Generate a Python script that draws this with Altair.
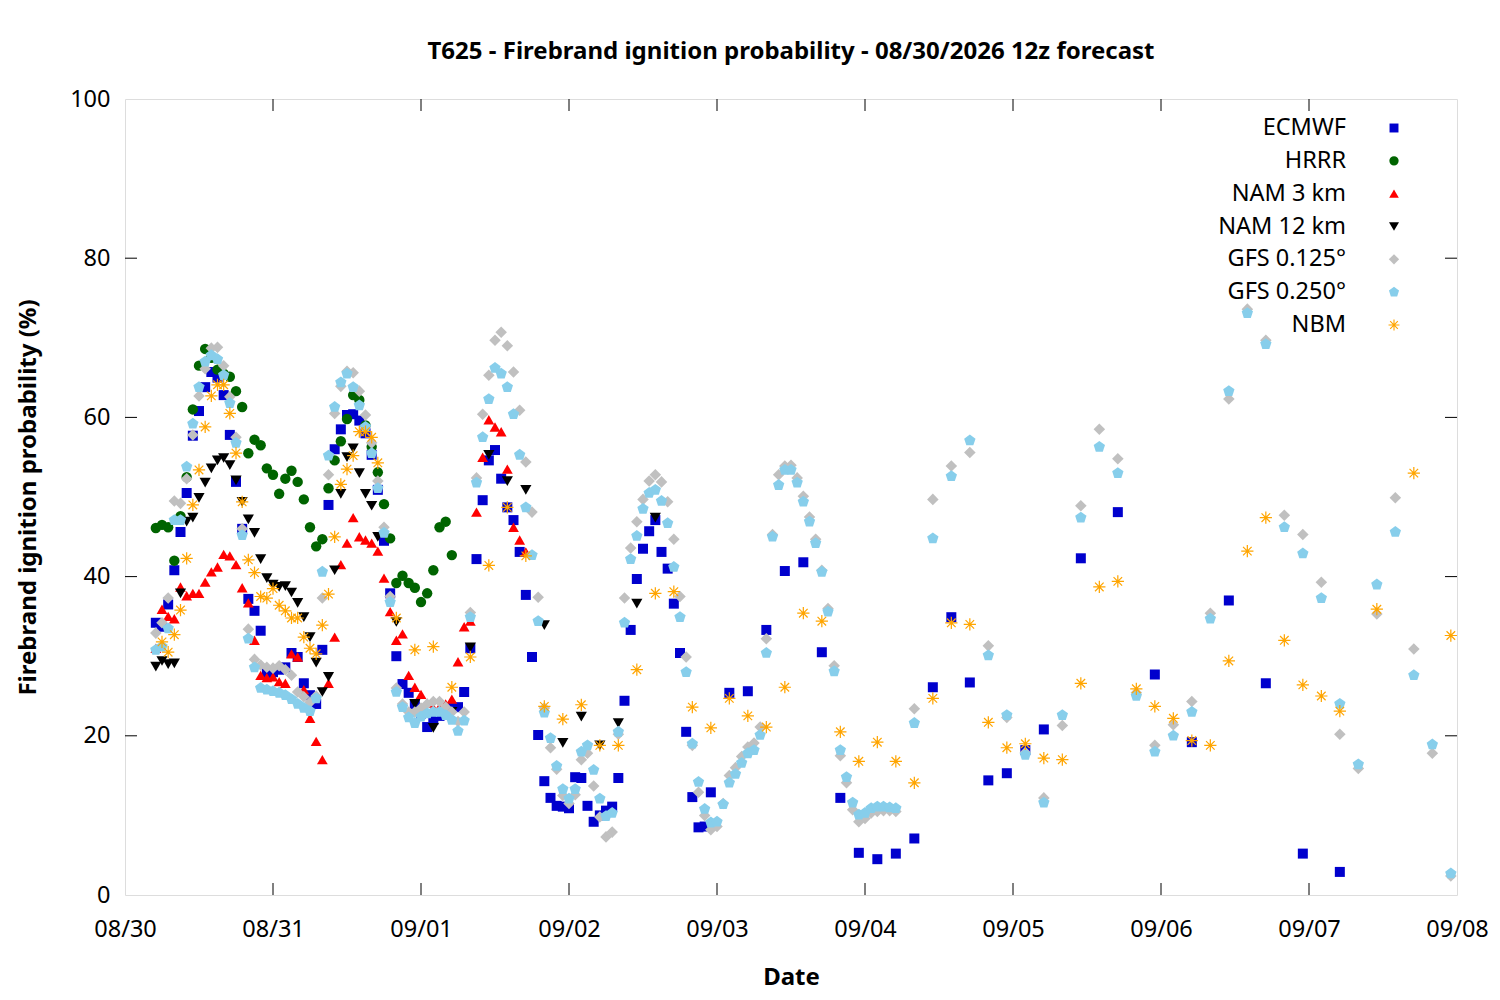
import altair as alt
import pandas as pd

BASE = pd.Timestamp("2026-08-30 00:00")

series_names = ["ECMWF", "HRRR", "NAM 3 km", "NAM 12 km", "GFS 0.125°", "GFS 0.250°", "NBM"]
series_colors = ["#0000cd", "#006400", "#ff0000", "#000000", "#c0c0c0", "#87ceeb", "#ffa500"]

PENTAGON = "M0,-1L0.951,-0.309L0.588,0.809L-0.588,0.809L-0.951,-0.309Z"
ASTERISK = ("M-1,-0.1L1,-0.1L1,0.1L-1,0.1Z"
            "M-0.1,-1L0.1,-1L0.1,1L-0.1,1Z"
            "M-0.63,-0.77L0.77,0.63L0.63,0.77L-0.77,-0.63Z"
            "M-0.77,0.63L0.63,-0.77L0.77,-0.63L-0.63,0.77Z")
series_shapes = ["square", "circle", "triangle-up", "triangle-down", "diamond", PENTAGON, ASTERISK]
point_sizes = [100, 150, 230, 230, 110, 145, 200]
legend_sizes = [80, 120, 190, 190, 95, 120, 160]

# hours after 08/30 00:00 (local time on the axis)
ecmwf_hours = list(range(5, 96)) + list(range(98, 150, 3)) + list(range(155, 198, 6))
ecmwf_vals = [
    34.2, 33.7, 36.5, 40.8, 45.6, 50.5, 57.7, 60.8, 63.8, 65.7,
    65.0, 62.8, 57.8, 51.9, 46.0, 37.2, 35.7, 33.2, 27.9, 28.0,
    28.3, 28.6, 30.4, 29.9, 26.6, 25.1, 24.0, 30.8, 49.0, 56.0,
    58.5, 60.3, 60.4, 59.6, 58.0, 55.3, 50.9, 44.5, 37.9, 30.0,
    26.5, 25.4, 24.0, 22.8, 21.1, 22.0, 22.5, 23.0, 23.5, 23.6,
    25.5, 31.0, 42.2, 49.6, 54.6, 55.9, 52.3, 48.7, 47.1, 43.1,
    37.7, 29.9, 20.1, 14.3, 12.2, 11.2, 11.1, 10.9, 14.8, 14.7,
    11.2, 9.2, 10.0, 10.6, 11.1, 14.7, 24.4, 33.3, 39.7, 43.5,
    45.7, 47.1, 43.1, 41.0, 36.6, 30.4, 20.5, 12.3, 8.5, 8.6,
    12.9,
    25.4, 25.6, 33.3, 40.7, 41.8, 30.5, 12.2, 5.3, 4.5, 5.2,
    7.1, 26.1, 34.9, 26.7, 14.4, 15.3, 18.2, 20.8,
    42.3, 48.1, 27.7, 19.2, 37.0, 26.6, 5.2, 2.9,
]

hrrr_hours = list(range(5, 54))
hrrr_vals = [
    46.1, 46.5, 46.2, 42.0, 47.6, 52.5, 61.0, 66.5, 68.6, 67.5,
    66.0, 65.5, 65.1, 63.3, 61.3, 55.5, 57.2, 56.5, 53.6, 52.8,
    50.4, 52.3, 53.3, 51.9, 49.7, 46.2, 43.8, 44.7, 51.1, 54.6,
    57.0, 59.8, 62.8, 62.2, 59.0, 56.3, 53.1, 49.1, 44.8, 39.2,
    40.1, 39.2, 38.6, 36.8, 37.9, 40.8, 46.2, 46.9, 42.7,
]

nam3_hours = list(range(5, 66))
nam3_vals = [
    31.0, 35.9, 35.0, 34.7, 38.7, 37.6, 37.9, 37.9, 39.3, 40.6,
    41.2, 42.8, 42.6, 41.5, 38.6, 36.7, 32.0, 27.6, 27.3, 27.4,
    26.8, 26.6, 30.3, 29.9, 25.8, 22.2, 19.3, 17.0, 26.6, 32.4,
    41.5, 44.2, 47.4, 45.0, 44.6, 44.2, 43.2, 39.8, 35.6, 32.0,
    32.8, 27.6, 26.1, 25.2, 24.1, 23.5, 23.6, 24.0, 24.6, 29.3,
    33.7, 34.4, 48.1, 55.0, 59.7, 58.8, 58.2, 53.5, 46.2, 44.6,
    43.1,
]

nam12_hours = list(range(5, 42)) + list(range(44, 87, 3))
nam12_vals = [
    28.7, 29.4, 29.0, 29.1, 37.9, 46.9, 47.4, 49.9, 51.8, 53.6,
    54.6, 54.9, 54.0, 52.1, 49.4, 47.2, 45.5, 42.2, 39.8, 39.0,
    38.7, 38.8, 38.0, 36.7, 34.9, 32.4, 29.2, 25.5, 27.4, 40.8,
    50.4, 55.0, 56.1, 53.0, 50.4, 48.9, 45.0,
    34.3, 24.0, 21.0, 23.0, 31.1, 55.3, 52.0, 50.9, 33.9, 19.1,
    22.4, 18.8, 21.6, 36.6, 47.4,
]

gfs_hours = list(range(5, 126)) + list(range(128, 216, 3))
gfs125_vals = [
    32.9, 34.2, 37.3, 49.5, 49.2, 52.3, 57.8, 62.7, 66.1, 68.7,
    68.8, 66.5, 62.6, 57.5, 46.0, 33.4, 29.6, 28.9, 28.6, 28.5,
    28.8, 28.3, 27.6, 25.5, 24.9, 24.2, 25.0, 37.3, 52.8, 60.5,
    63.9, 65.8, 65.6, 63.3, 60.3, 56.8, 52.0, 46.2, 37.5, 26.0,
    24.0, 23.0, 23.0, 23.5, 24.0, 24.3, 24.3, 23.6, 23.0, 21.8,
    23.0, 35.5, 52.4, 60.4, 65.3, 69.7, 70.7, 69.0, 65.7, 60.9,
    54.4, 48.1, 37.4, 23.5, 18.5, 15.8, 12.5, 11.5, 12.6, 17.0,
    17.8, 13.7, 9.8, 7.3, 7.9, 20.2, 37.3, 43.6, 46.9, 49.7,
    52.0, 52.8, 51.9, 49.4, 44.7, 37.5, 29.9, 18.8, 12.9, 10.0,
    8.2, 8.6, 11.5, 15.0, 16.0, 17.4, 18.6, 19.1, 21.1, 32.2,
    45.3, 52.8, 53.9, 54.0, 52.4, 50.1, 47.5, 44.7, 40.8, 36.0,
    28.8, 17.5, 14.1, 10.7, 9.2, 9.6, 10.3, 10.5, 10.6, 10.6,
    10.5,
    23.4, 49.7, 53.9, 55.6, 31.3, 22.3, 17.9, 12.2, 21.3, 48.9,
    58.5, 54.8, 25.4, 18.8, 21.4, 24.3, 35.4, 62.3, 73.6, 69.7,
    47.7, 45.3, 39.3, 20.2, 15.9, 35.3, 49.9, 30.9, 17.8, 2.4,
]
gfs250_vals = [
    30.8, 31.2, 33.5, 47.1, 47.1, 53.8, 59.2, 63.8, 67.0, 67.8,
    67.3, 65.3, 61.8, 56.8, 45.2, 32.2, 28.6, 26.0, 25.8, 25.6,
    25.4, 25.1, 24.6, 24.0, 23.5, 23.1, 24.7, 40.6, 55.2, 61.3,
    64.4, 65.5, 63.8, 61.5, 58.8, 55.5, 51.1, 45.5, 36.8, 25.5,
    23.6, 22.3, 21.6, 22.4, 22.8, 23.0, 23.0, 22.6, 22.0, 20.6,
    21.9, 34.9, 51.8, 57.5, 62.3, 66.2, 65.5, 63.8, 60.4, 55.3,
    48.7, 42.7, 34.4, 22.9, 19.7, 16.2, 13.3, 12.1, 13.3, 18.0,
    18.8, 15.7, 12.1, 9.9, 10.3, 20.5, 34.2, 42.2, 45.1, 48.5,
    50.5, 50.9, 49.5, 46.7, 41.2, 34.9, 28.0, 19.0, 14.2, 10.8,
    9.1, 9.2, 11.4, 14.1, 15.2, 16.6, 17.8, 18.2, 20.1, 30.4,
    45.0, 51.5, 53.4, 53.4, 51.8, 49.4, 46.9, 44.2, 40.6, 35.6,
    28.1, 18.2, 14.8, 11.6, 10.1, 10.3, 10.9, 11.1, 11.1, 11.0,
    10.9,
    21.6, 44.8, 52.6, 57.1, 30.1, 22.6, 17.6, 11.6, 22.6, 47.4,
    56.3, 53.0, 25.0, 18.0, 20.0, 23.0, 34.7, 63.3, 73.1, 69.2,
    46.2, 42.9, 37.3, 24.0, 16.4, 39.0, 45.6, 27.6, 18.9, 2.7,
]

nbm_hours = list(range(6, 42)) + list(range(44, 198, 3)) + [203, 209, 215]
nbm_vals = [
    31.8, 30.5, 32.7, 35.8, 42.3, 49.0, 53.4, 58.8, 62.7,
    64.1, 64.1, 60.5, 55.5, 49.4, 42.1, 40.5, 37.5, 37.3, 38.5,
    36.4, 35.7, 34.8, 34.8, 32.4, 31.0, 30.3, 33.9, 37.8, 45.0,
    51.6, 53.5, 55.2, 58.2, 58.2, 57.5, 54.3,
    34.8, 30.8, 31.2, 26.1, 29.9, 41.4, 48.7, 42.6, 23.7, 22.1,
    23.9, 18.8, 18.8, 28.3, 37.9, 38.1, 23.6, 21.0, 24.7, 22.5,
    21.1, 26.1, 35.4, 34.4, 20.5, 16.8, 19.2, 16.8, 14.1, 24.7,
    34.2, 34.0, 21.7, 18.5, 19.0, 17.2, 17.0, 26.6, 38.7, 39.4,
    25.9, 23.7, 22.2, 19.4, 18.8, 29.4, 43.2, 47.4, 32.0, 26.4,
    25.0, 23.1,
    35.9, 53.0, 32.6,
]

y_tick_values = [20, 40, 60, 80]
day_ticks = pd.date_range("2026-08-31", "2026-09-07", freq="D")

W, H = 1332, 796
FONT = "Noto Sans"
LABEL_SIZE = 23.5
TITLE_SIZE = 24

series_data = [
    (ecmwf_hours, ecmwf_vals), (hrrr_hours, hrrr_vals), (nam3_hours, nam3_vals),
    (nam12_hours, nam12_vals), (gfs_hours, gfs125_vals), (gfs_hours, gfs250_vals),
    (nbm_hours, nbm_vals),
]
frames = []
for k, (name, (hrs, vals)) in enumerate(zip(series_names, series_data)):
    frames.append(pd.DataFrame({
        "series": name,
        "time": BASE + pd.to_timedelta(hrs, unit="h"),
        "value": vals,
        "z": k,
    }))
df = pd.concat(frames, ignore_index=True)

color_scale = alt.Scale(domain=series_names, range=series_colors)
shape_scale = alt.Scale(domain=series_names, range=series_shapes)

x_enc = alt.X(
    "time:T",
    title="Date",
    scale=alt.Scale(domain=[alt.DateTime(year=2026, month=8, date=30),
                            alt.DateTime(year=2026, month=9, date=8)]),
    axis=alt.Axis(format="%m/%d", tickCount={"interval": "day", "step": 1},
                  ticks=False, tickSize=0, grid=False, domain=False,
                  labelFlush=False, labelOverlap=False, labelPadding=22,
                  labelFontSize=LABEL_SIZE, labelFont=FONT, labelColor="black",
                  titleFontSize=TITLE_SIZE, titleFont=FONT, titleFontWeight="bold",
                  titleColor="black", titlePadding=25),
)
y_scale = alt.Scale(domain=[0, 100], nice=False)
y_enc = alt.Y(
    "value:Q",
    title="Firebrand ignition probability (%)",
    scale=y_scale,
    axis=alt.Axis(values=[0, 20, 40, 60, 80, 100], ticks=False, tickSize=0,
                  grid=False, domain=False, labelPadding=15,
                  labelFontSize=LABEL_SIZE, labelFont=FONT, labelColor="black",
                  titleFontSize=TITLE_SIZE, titleFont=FONT, titleFontWeight="bold",
                  titleColor="black", titlePadding=29),
)

points = alt.Chart(df).mark_point(filled=True, opacity=1).encode(
    x=x_enc,
    y=y_enc,
    color=alt.Color("series:N", scale=color_scale, legend=None),
    shape=alt.Shape("series:N", scale=shape_scale, legend=None),
    size=alt.Size("series:N", scale=alt.Scale(domain=series_names, range=point_sizes), legend=None),
    order=alt.Order("z:Q"),
)

# inward ticks on all four sides, like the original
ytick_df = pd.DataFrame({"value": y_tick_values})
xtick_df = pd.DataFrame({"time": day_ticks})
y_plain = alt.Y("value:Q", scale=y_scale, axis=None)
tick_style = dict(color="black", strokeWidth=1)
yticks_left = alt.Chart(ytick_df).mark_rule(**tick_style).encode(
    y=y_plain, x=alt.value(0), x2=alt.value(12))
yticks_right = alt.Chart(ytick_df).mark_rule(**tick_style).encode(
    y=y_plain, x=alt.value(W - 12), x2=alt.value(W))
xticks_bottom = alt.Chart(xtick_df).mark_rule(**tick_style).encode(
    x=x_enc, y=alt.value(H - 12), y2=alt.value(H))
xticks_top = alt.Chart(xtick_df).mark_rule(**tick_style).encode(
    x=x_enc, y=alt.value(0), y2=alt.value(12))

# key in the top right corner: label on the left, symbol on the right
legend_df = pd.DataFrame({"series": series_names})
legend_y = alt.Y("series:N", sort=series_names, axis=None,
                 scale=alt.Scale(type="point", domain=series_names, range=[29, 226], padding=0))
legend_text = alt.Chart(legend_df).mark_text(
    align="right", baseline="middle", font=FONT, fontSize=LABEL_SIZE, color="black"
).encode(x=alt.value(1221), y=legend_y, text="series:N")
legend_marks = alt.Chart(legend_df).mark_point(filled=True, opacity=1).encode(
    x=alt.value(1269),
    y=legend_y,
    color=alt.Color("series:N", scale=color_scale, legend=None),
    shape=alt.Shape("series:N", scale=shape_scale, legend=None),
    size=alt.Size("series:N", scale=alt.Scale(domain=series_names, range=legend_sizes), legend=None),
)

chart = alt.layer(
    points, yticks_left, yticks_right, xticks_bottom, xticks_top, legend_text, legend_marks
).resolve_scale(
    y="independent", size="independent"
).properties(
    width=W,
    height=H,
    title=alt.TitleParams(
        text="T625 - Firebrand ignition probability - 08/30/2026 12z forecast",
        font=FONT, fontSize=TITLE_SIZE, fontWeight="bold", color="black",
        anchor="middle", baseline="alphabetic", offset=4,
    ),
    autosize=alt.AutoSizeParams(type="none"),
    padding={"left": 117, "top": 91, "right": 35, "bottom": 97},
).configure_view(
    stroke="black", strokeWidth=1
).configure(
    background="white"
)

chart.save("out.html", embed_options={"renderer": "svg", "actions": False})
